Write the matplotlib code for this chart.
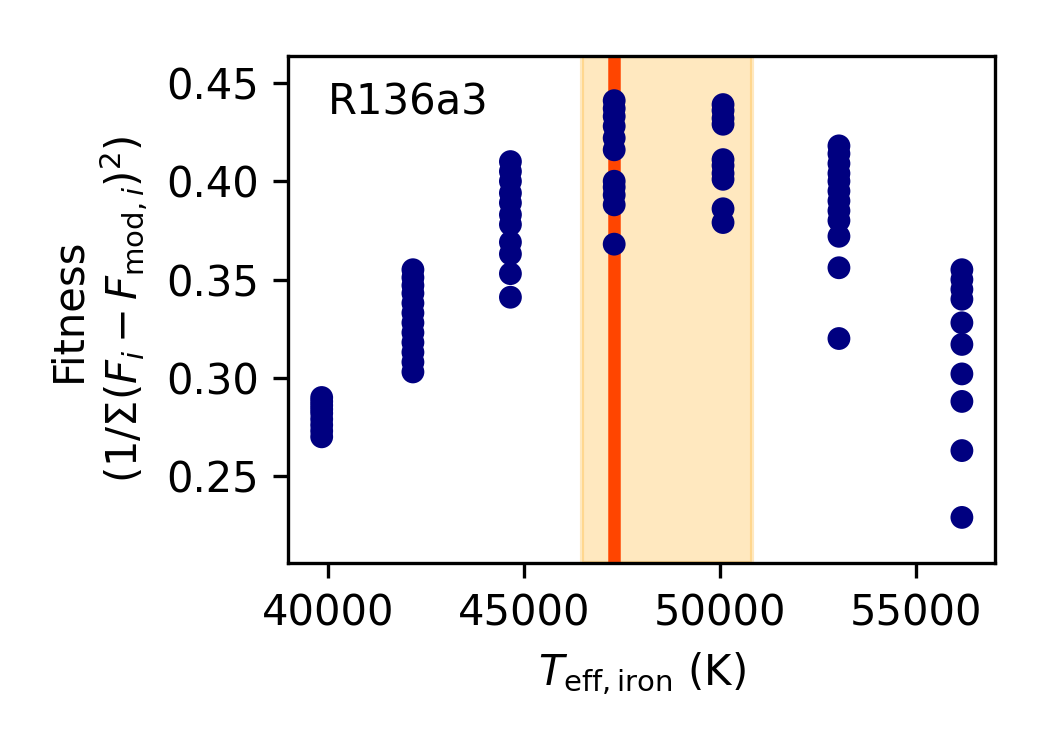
import numpy as np
import matplotlib
matplotlib.use("Agg")
import matplotlib.pyplot as plt

# Effective temperatures of the model grid (K) and fitness of each model
TEFF_GRID = [39830, 42160, 44650, 47300, 50080, 53040, 56180]
FITNESS = [
    [0.290, 0.288, 0.286, 0.284, 0.282, 0.279, 0.276, 0.273, 0.270],
    [0.355, 0.351, 0.347, 0.343, 0.338, 0.333, 0.328, 0.323, 0.318,
     0.313, 0.308, 0.303],
    [0.410, 0.405, 0.400, 0.394, 0.389, 0.383, 0.378, 0.369, 0.363,
     0.353, 0.341],
    [0.441, 0.437, 0.433, 0.428, 0.422, 0.416, 0.400, 0.397, 0.393,
     0.388, 0.368],
    [0.439, 0.436, 0.432, 0.429, 0.411, 0.408, 0.404, 0.401, 0.386,
     0.379],
    [0.418, 0.414, 0.409, 0.404, 0.400, 0.395, 0.390, 0.385, 0.380,
     0.372, 0.356, 0.320],
    [0.355, 0.350, 0.345, 0.340, 0.328, 0.317, 0.302, 0.288, 0.263,
     0.229],
]

BEST_TEFF = 47300
TEFF_LO = 46470
TEFF_HI = 50830
STAR = "R136a3"

fig = plt.figure(figsize=(3.5, 2.5), dpi=300)
ax = fig.add_axes([0.2743, 0.2493, 0.6733, 0.676])

ax.axvspan(TEFF_LO, TEFF_HI, color="orange", alpha=0.25, zorder=1)
ax.axvline(BEST_TEFF, color="orangered", linewidth=3, zorder=2)

for teff, fit in zip(TEFF_GRID, FITNESS):
    ax.scatter(np.full(len(fit), teff), fit, s=30, color="navy",
               edgecolors="none", zorder=3)

ax.set_xlim(38970, 57025)
ax.set_ylim(0.2058, 0.4637)
ax.set_xticks([40000, 45000, 50000, 55000])
ax.set_yticks([0.25, 0.30, 0.35, 0.40, 0.45])

ax.set_xlabel(r"$T_{\mathrm{eff,iron}}$ (K)")
ax.set_ylabel("Fitness\n" + r"$(1/\Sigma(F_i - F_{\mathrm{mod},i})^2)$")
ax.text(0.057, 0.885, STAR, transform=ax.transAxes, fontsize=10)

fig.savefig("out.png", dpi=300)
